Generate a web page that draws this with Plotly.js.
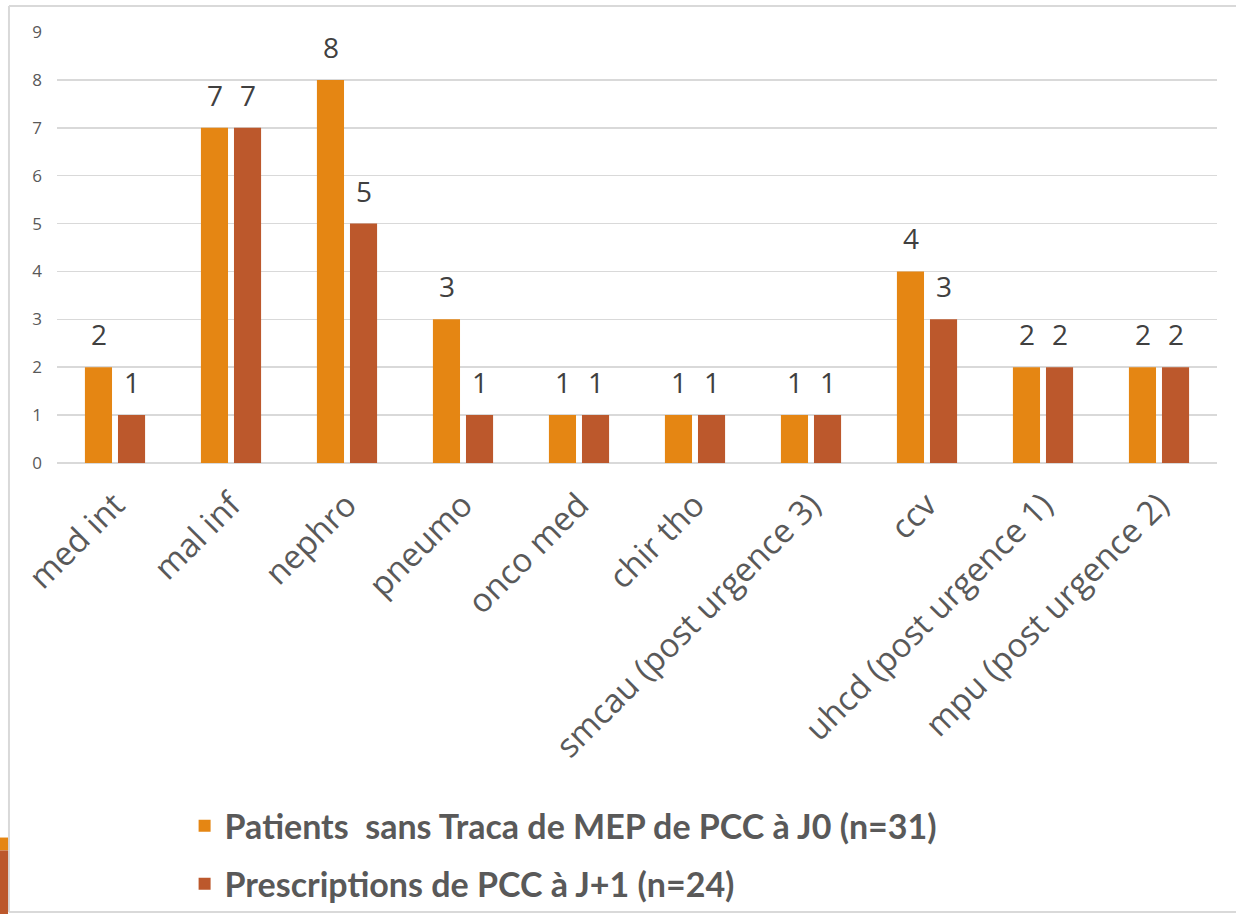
<!DOCTYPE html>
<html><head><meta charset="utf-8">
<script src="https://cdn.plot.ly/plotly-3.0.1.min.js"></script>
<style>html,body{margin:0;padding:0;background:#fff;}#chart{width:1236px;height:914px;}</style>
</head><body><div id="chart"></div>
<script>
var categories = ["med int","mal inf","nephro","pneumo","onco med","chir tho","smcau (post urgence 3)","ccv","uhcd (post urgence 1)","mpu (post urgence 2)"];
var patientsJ0 = [2,7,8,3,1,1,1,4,2,2];
var prescriptionsJ1 = [1,7,5,1,1,1,1,3,2,2];
var seriesNames = ["Patients  sans Traca de MEP de PCC à J0 (n=31)","Prescriptions de PCC à J+1 (n=24)"];
var yTicks = [0,1,2,3,4,5,6,7,8,9];

var fontA = "'Open Sans', sans-serif";
var fontL = "Lato, 'Open Sans', sans-serif";
var colors = ["#E58613", "#BC582C"];
var seriesVals = [patientsJ0, prescriptionsJ1];

var data = seriesVals.map(function(vals, i){
  return {type:"bar", name:seriesNames[i], legendgroup:"g"+i, x:categories, y:vals,
    marker:{color:colors[i]}, hoverinfo:"x+y"};
});

// value labels, anchored to the data through the axis scales
var annotations = [];
var offsets = [-16.5, 16.5];
seriesVals.forEach(function(vals, i){
  vals.forEach(function(v, j){
    annotations.push({x:categories[j], y:v, xref:"x", yref:"y", text:String(v), showarrow:false,
      xanchor:"center", yanchor:"bottom", xshift:offsets[i], yshift:12,
      font:{family:fontA, size:28, color:"#404040"}});
  });
});

var layout = {
  width:1236, height:914,
  margin:{l:57, r:19, t:32, b:451, autoexpand:false},
  paper_bgcolor:"#fff", plot_bgcolor:"#fff",
  barmode:"group", bargap:0.43, bargroupgap:0.18,
  showlegend:true,
  legend:{x:0.11, y:-0.775, xanchor:"left", yanchor:"top", orientation:"v",
    bgcolor:"rgba(0,0,0,0)",
    font:{family:fontL, size:34, color:"#595959", weight:"bold"}, tracegroupgap:11},
  xaxis:{type:"category", tickangle:-45, tickfont:{family:fontA, size:33, color:"#595959"},
    showgrid:false, showline:false, ticks:"", automargin:false, ticklabelstandoff:15},
  yaxis:{range:[0,9], tickvals:yTicks, tickfont:{family:fontA, size:17, color:"#595959"},
    showgrid:true, gridcolor:"#D9D9D9", gridwidth:1.5, zeroline:true, zerolinecolor:"#D9D9D9", zerolinewidth:1.5,
    showline:false, ticks:"", automargin:false, ticklabelstandoff:14},
  annotations:annotations,
  shapes:[
    {type:"line", xref:"paper", yref:"paper", x0:-0.0414, x1:1.02, y0:1.0603, y1:1.0603, line:{color:"#D9D9D9", width:2}},
    {type:"line", xref:"paper", yref:"paper", x0:-0.0414, x1:-0.0414, y0:1.0603, y1:-1.0418, line:{color:"#D9D9D9", width:2}},
    {type:"line", xref:"paper", yref:"paper", x0:-0.0414, x1:1.02, y0:-1.0418, y1:-1.0418, line:{color:"#D9D9D9", width:2}},
    {type:"rect", xref:"paper", yref:"paper", x0:-0.0492, x1:-0.0422, y0:-0.869, y1:-0.899, line:{width:0}, fillcolor:"#E58613"},
    {type:"rect", xref:"paper", yref:"paper", x0:-0.0492, x1:-0.0422, y0:-0.899, y1:-1.05, line:{width:0}, fillcolor:"#BC582C"}
  ]
};
Plotly.newPlot("chart", data, layout, {displayModeBar:false, staticPlot:true});
</script>
</body></html>
